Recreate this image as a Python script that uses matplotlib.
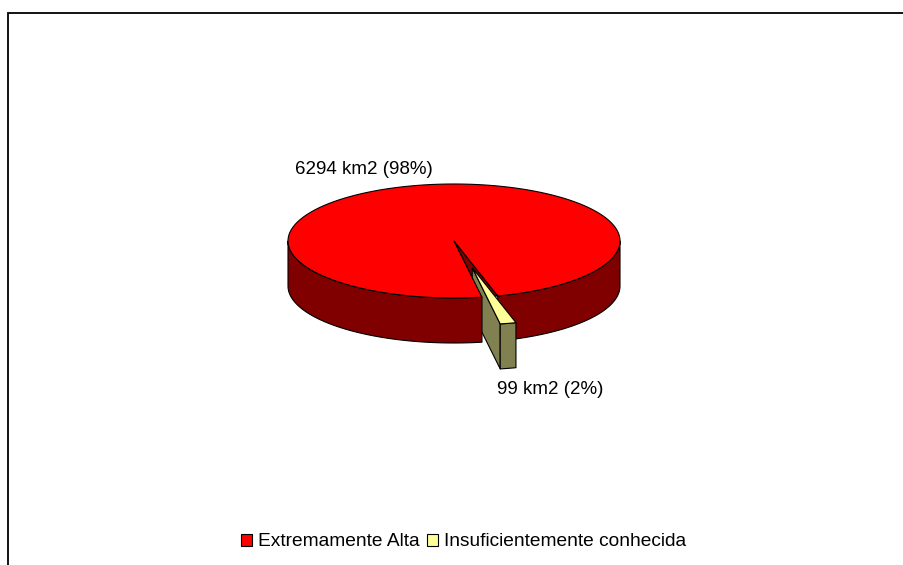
import numpy as np
import matplotlib
matplotlib.use('Agg')
import matplotlib.pyplot as plt
from matplotlib.patches import Polygon, Patch

categories = ['Extremamente Alta', 'Insuficientemente conhecida']
areas = [6294, 99]
percents = [98, 2]
top_colors = ['#FF0000', '#FFFF99']
side_colors = ['#800000', '#808050']

plt.rcParams['font.family'] = ['Liberation Sans', 'DejaVu Sans']

# pie geometry in pixels
cx, cy = 454, 241
rx, ry = 166, 57
depth = 45
start = 9.7   # degrees from the bottom of the pie, towards the right
explode = 0.48
shift_x = 1


def rim(angles, ox=cx, oy=cy):
    a = np.radians(angles)
    return np.column_stack([ox + rx * np.sin(a), oy + ry * np.cos(a)])


def add(ax, pts, color):
    ax.add_patch(Polygon(pts, closed=True, facecolor=color, edgecolor='black', lw=0.8, joinstyle='round'))


fig = plt.figure(figsize=(9.04, 5.65), dpi=100)
ax = fig.add_axes([0, 0, 1, 1])
ax.set_xlim(0, 904)
ax.set_ylim(565, 0)
ax.axis('off')

# outer chart border, only top and left fall inside the picture
ax.plot([8.5, 8.5, 904], [565, 12.5, 12.5], color='black', lw=1.3, solid_joinstyle='miter')

sweep = areas[1] / sum(areas) * 360
end = start + sweep
mid = np.radians((start + end) / 2)
ox = cx + explode * rx * np.sin(mid) + shift_x
oy = cy + explode * ry * np.cos(mid)

center = np.array([[cx, cy]])
down = np.array([0, depth])

# back of the main slice: notch and right part of the wall
add(ax, np.vstack([center, rim([start, end])]), side_colors[0])
right = rim(np.linspace(end, 90, 60))
add(ax, np.vstack([right, (right + down)[::-1]]), side_colors[0])

# exploded slice, cut face first so the main pie can hide part of it
apex = np.array([[ox, oy]])
p1 = rim([start], ox, oy)
add(ax, np.vstack([apex, p1, p1 + down, apex + down]), side_colors[1])

# left part of the main wall and top face
left = rim(np.linspace(-90, start, 80))
add(ax, np.vstack([left, (left + down)[::-1]]), side_colors[0])
add(ax, np.vstack([center, rim(np.linspace(end, start + 360, 300))]), top_colors[0])

# rest of the exploded slice
arc = rim(np.linspace(start, end, 10), ox, oy)
add(ax, np.vstack([arc, (arc + down)[::-1]]), side_colors[1])
add(ax, np.vstack([apex, arc]), top_colors[1])

label_font = 13.5
ax.text(295, 170, f'{areas[0]} km2 ({percents[0]}%)', fontsize=label_font, va='center', ha='left')
ax.text(497, 389, f'{areas[1]} km2 ({percents[1]}%)', fontsize=label_font, va='center', ha='left')

handles = [Patch(facecolor=c, edgecolor='black', lw=0.8) for c in top_colors]
ax.legend(handles, categories, ncol=2, frameon=False, fontsize=13.8,
          loc='center left', bbox_to_anchor=(241 / 904, 1 - 542 / 565),
          borderaxespad=0, borderpad=0, handlelength=0.58, handleheight=0.58,
          handletextpad=0.32, columnspacing=0.38)

fig.savefig('out.png', dpi=100, facecolor='white')
